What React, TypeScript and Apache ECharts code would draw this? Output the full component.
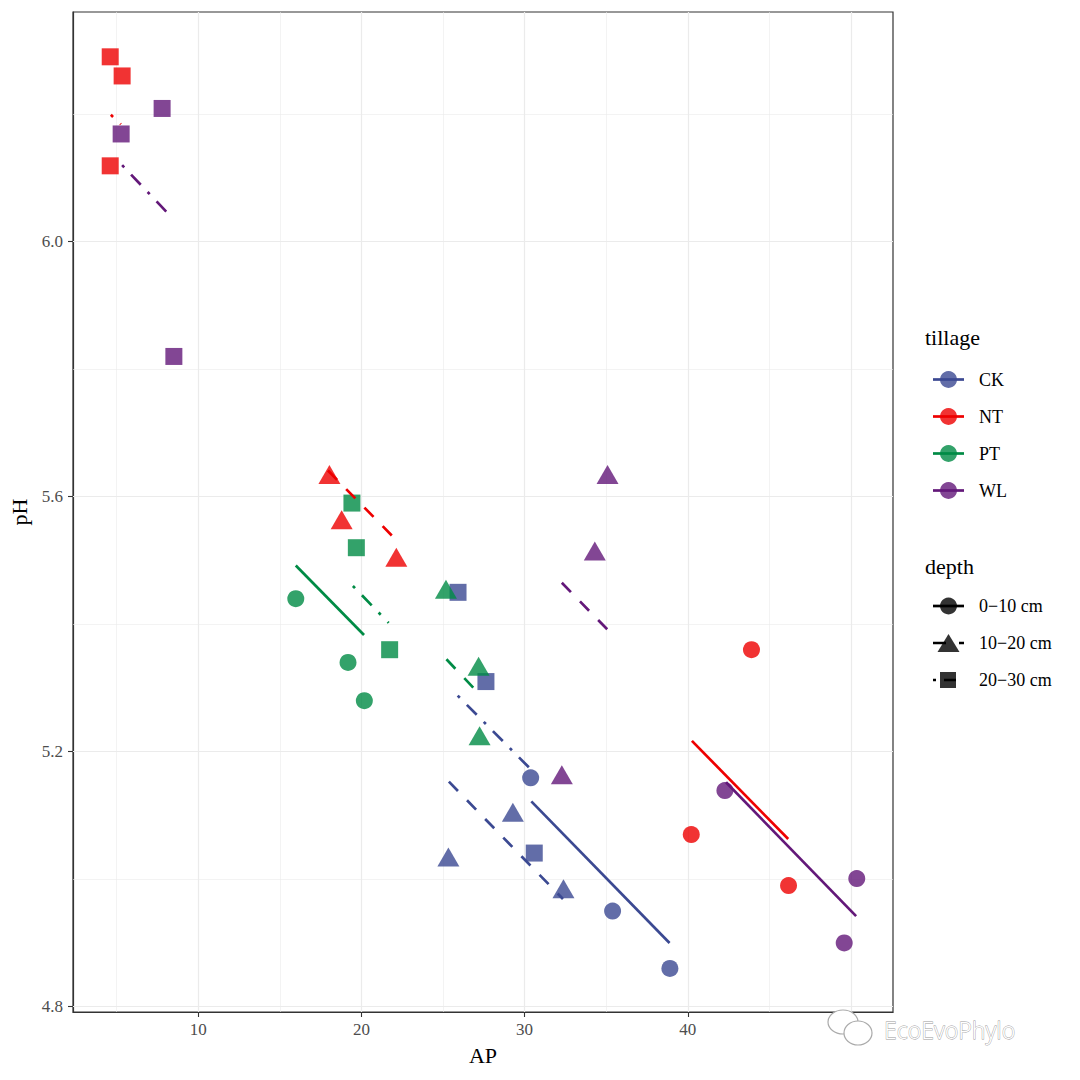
import React, { useEffect, useRef } from "react";
import * as echarts from "echarts";

// ---- categories ----
const tillages = ["CK", "NT", "PT", "WL"];
const depths = ["0−10 cm", "10−20 cm", "20−30 cm"];

// ---- points [AP, pH] ----
const CK_0_10 = [[30.37, 5.159], [35.39, 4.95], [38.9, 4.86]];
const CK_10_20 = [[25.33, 5.035], [29.28, 5.105], [32.38, 4.985]];
const CK_20_30 = [[25.92, 5.45], [27.63, 5.31], [30.59, 5.041]];
const NT_0_10 = [[40.21, 5.07], [43.9, 5.36], [46.17, 4.99]];
const NT_10_20 = [[18.04, 5.635], [18.79, 5.564], [22.14, 5.505]];
const NT_20_30 = [[4.61, 6.29], [5.34, 6.26], [4.61, 6.119]];
const PT_0_10 = [[15.98, 5.44], [19.18, 5.34], [20.18, 5.28]];
const PT_10_20 = [[25.18, 5.455], [27.18, 5.334], [27.24, 5.225]];
const PT_20_30 = [[19.42, 5.59], [19.69, 5.52], [21.73, 5.36]];
const WL_0_10 = [[42.27, 5.139], [49.58, 4.9], [50.35, 5.001]];
const WL_10_20 = [[32.28, 5.164], [34.3, 5.515], [35.08, 5.635]];
const WL_20_30 = [[5.28, 6.169], [7.79, 6.209], [8.51, 5.82]];

// ---- fitted lines (endpoints) ----
const FIT_CK_0_10 = [[30.41, 5.122], [38.88, 4.9]];
const FIT_CK_10_20 = [[25.36, 5.153], [32.35, 4.969]];
const FIT_CK_20_30 = [[25.9, 5.288], [30.55, 5.168]];
const FIT_NT_0_10 = [[40.25, 5.217], [46.15, 5.063]];
const FIT_NT_10_20 = [[17.95, 5.641], [22.1, 5.533]];
const FIT_NT_20_30 = [[4.65, 6.199], [5.26, 6.184]];
const FIT_PT_0_10 = [[15.98, 5.492], [20.16, 5.383]];
const FIT_PT_10_20 = [[25.21, 5.345], [27.24, 5.29]];
const FIT_PT_20_30 = [[19.48, 5.46], [21.67, 5.402]];
const FIT_WL_0_10 = [[42.34, 5.152], [50.31, 4.942]];
const FIT_WL_10_20 = [[32.28, 5.465], [35.06, 5.392]];
const FIT_WL_20_30 = [[5.34, 6.12], [8.2, 6.043]];

// ---- axes ----
const xTicks = [10, 20, 30, 40];
const yTicks = [4.8, 5.2, 5.6, 6.0];
const xMajor = [10, 20, 30, 40, 50];
const xMinor = [5, 15, 25, 35, 45];
const yMajor = [4.8, 5.2, 5.6, 6.0];
const yMinor = [5.0, 5.4, 5.8, 6.2];

const pointsBy: Record<string, number[][][]> = {
  CK: [CK_0_10, CK_10_20, CK_20_30],
  NT: [NT_0_10, NT_10_20, NT_20_30],
  PT: [PT_0_10, PT_10_20, PT_20_30],
  WL: [WL_0_10, WL_10_20, WL_20_30],
};
const fitsBy: Record<string, number[][][]> = {
  CK: [FIT_CK_0_10, FIT_CK_10_20, FIT_CK_20_30],
  NT: [FIT_NT_0_10, FIT_NT_10_20, FIT_NT_20_30],
  PT: [FIT_PT_0_10, FIT_PT_10_20, FIT_PT_20_30],
  WL: [FIT_WL_0_10, FIT_WL_10_20, FIT_WL_20_30],
};

const COLORS: Record<string, string> = {
  CK: "#3B4992",
  NT: "#EE0000",
  PT: "#008B45",
  WL: "#631879",
};
const POINT_COLORS: Record<string, string> = {
  CK: "#626DA8",
  NT: "#F13333",
  PT: "#33A26A",
  WL: "#824694",
};
const SYMBOLS = ["circle", "triangle", "rect"];
const SYMBOL_SIZES: any[] = [17, [22, 19], 17];
const DASHES: any[] = ["solid", [13, 13], [3, 10, 14, 10]];
const SERIF = "'Liberation Serif', 'DejaVu Serif', serif";
const LW = 2.7;

export default function App() {
  const ref = useRef<HTMLDivElement>(null);
  useEffect(() => {
    if (!ref.current) return;
    const chart = echarts.init(ref.current, undefined, { renderer: "svg" });

    const series: any[] = [];
    // grid lines
    series.push({
      type: "line",
      data: [],
      silent: true,
      z: 1,
      markLine: {
        silent: true,
        z: 1,
        symbol: "none",
        label: { show: false },
        animation: false,
        data: [
          ...xMinor.map((v) => ({ xAxis: v, lineStyle: { color: "#EBEBEB", width: 0.6, type: "solid" } })),
          ...yMinor.map((v) => ({ yAxis: v, lineStyle: { color: "#EBEBEB", width: 0.6, type: "solid" } })),
          ...xMajor.map((v) => ({ xAxis: v, lineStyle: { color: "#EBEBEB", width: 1.2, type: "solid" } })),
          ...yMajor.map((v) => ({ yAxis: v, lineStyle: { color: "#EBEBEB", width: 1.2, type: "solid" } })),
        ],
      },
    });
    tillages.forEach((t) => {
      depths.forEach((d, di) => {
        series.push({
          type: "scatter",
          name: t + " " + d,
          data: pointsBy[t][di],
          symbol: SYMBOLS[di],
          symbolSize: SYMBOL_SIZES[di],
          itemStyle: { color: COLORS[t], opacity: 0.8 },
          z: 3,
          silent: true,
        });
      });
    });
    tillages.forEach((t) => {
      depths.forEach((d, di) => {
        series.push({
          type: "line",
          name: "fit " + t + " " + d,
          data: fitsBy[t][di],
          showSymbol: false,
          symbol: "none",
          lineStyle: { color: COLORS[t], width: LW, type: DASHES[di], cap: "butt" },
          z: 5,
          silent: true,
        });
      });
    });

    // legend graphics
    const graphic: any[] = [];
    graphic.push({
      type: "text",
      left: 925,
      top: 326,
      style: { text: "tillage", font: `22px ${SERIF}`, fill: "#000" },
    });
    tillages.forEach((t, i) => {
      const y = 379.5 + i * 37;
      graphic.push({
        type: "circle",
        shape: { cx: 948.5, cy: y, r: 8.5 },
        style: { fill: POINT_COLORS[t] },
      });
      graphic.push({
        type: "line",
        shape: { x1: 933, y1: y, x2: 964, y2: y },
        style: { stroke: COLORS[t], lineWidth: LW },
      });
      graphic.push({
        type: "text",
        x: 979,
        y: y,
        style: { text: t, font: `18px ${SERIF}`, fill: "#000", verticalAlign: "middle" },
      });
    });
    graphic.push({
      type: "text",
      left: 925,
      top: 555,
      style: { text: "depth", font: `22px ${SERIF}`, fill: "#000" },
    });
    depths.forEach((d, i) => {
      const y = 606 + i * 37;
      if (i === 0) {
        graphic.push({ type: "circle", shape: { cx: 948.5, cy: y, r: 8.5 }, style: { fill: "#333333" } });
      } else if (i === 1) {
        graphic.push({
          type: "polygon",
          shape: { points: [[948.5, y - 9], [959.5, y + 9], [937.5, y + 9]] },
          style: { fill: "#333333" },
        });
      } else {
        graphic.push({ type: "rect", shape: { x: 940, y: y - 8, width: 16, height: 16 }, style: { fill: "#333333" } });
      }
      graphic.push({
        type: "line",
        shape: { x1: 933, y1: y, x2: 964, y2: y },
        style: {
          stroke: "#000",
          lineWidth: LW,
          lineDash: i === 0 ? null : i === 1 ? [13, 13] : [3, 8, 12, 8],
          lineCap: "butt",
        },
      });
      graphic.push({
        type: "text",
        x: 979,
        y: y,
        style: { text: d, font: `18px ${SERIF}`, fill: "#000", verticalAlign: "middle" },
      });
    });
    // watermark
    graphic.push({
      type: "ellipse",
      shape: { cx: 843, cy: 1022, rx: 15, ry: 12 },
      style: { fill: "#fff", stroke: "#aaa", lineWidth: 1.2 },
      z: 100,
    });
    graphic.push({
      type: "ellipse",
      shape: { cx: 858, cy: 1033, rx: 14, ry: 12 },
      style: { fill: "#fff", stroke: "#aaa", lineWidth: 1.2 },
      z: 100,
    });
    graphic.push({
      type: "text",
      x: 884,
      y: 1030,
      style: {
        text: "EcoEvoPhylo",
        font: `300 23px 'Noto Sans', sans-serif`,
        fill: "#fff",
        stroke: "#999",
        lineWidth: 0.8,
        verticalAlign: "middle",
      },
      z: 100,
    });

    chart.setOption({
      animation: false,
      backgroundColor: "#fff",
      grid: {
        left: 73,
        top: 12,
        width: 820,
        height: 1000,
        show: true,
        borderColor: "#333",
        borderWidth: 1.2,
        backgroundColor: "#fff",
        containLabel: false,
      },
      xAxis: {
        type: "value",
        min: 2.33,
        max: 52.57,
        name: "AP",
        nameLocation: "middle",
        nameGap: 32,
        nameTextStyle: { fontFamily: SERIF, fontSize: 22, color: "#000" },
        splitLine: { show: false },
        axisLine: { show: true, lineStyle: { color: "#333", width: 1.2 } },
        axisTick: { show: true, length: 5, customValues: xTicks, lineStyle: { color: "#333", width: 1.1 } },
        axisLabel: {
          customValues: xTicks,
          color: "#4D4D4D",
          fontSize: 17,
          fontFamily: SERIF,
          margin: 9,
        },
      },
      yAxis: {
        type: "value",
        min: 4.7917,
        max: 6.3603,
        name: "pH",
        nameLocation: "middle",
        nameGap: 40,
        nameTextStyle: { fontFamily: SERIF, fontSize: 22, color: "#000" },
        splitLine: { show: false },
        axisLine: { show: true, lineStyle: { color: "#333", width: 1.2 } },
        axisTick: { show: true, length: 5, customValues: yTicks, lineStyle: { color: "#333", width: 1.1 } },
        axisLabel: {
          customValues: yTicks,
          color: "#4D4D4D",
          fontSize: 17,
          fontFamily: SERIF,
          margin: 10,
          formatter: (v: number) => v.toFixed(1),
        },
      },
      graphic,
      series,
    });
    return () => chart.dispose();
  }, []);
  return (
    <div
      ref={ref}
      style={{ position: "absolute", left: 0, top: 0, width: 1080, height: 1080, background: "#fff" }}
    />
  );
}
